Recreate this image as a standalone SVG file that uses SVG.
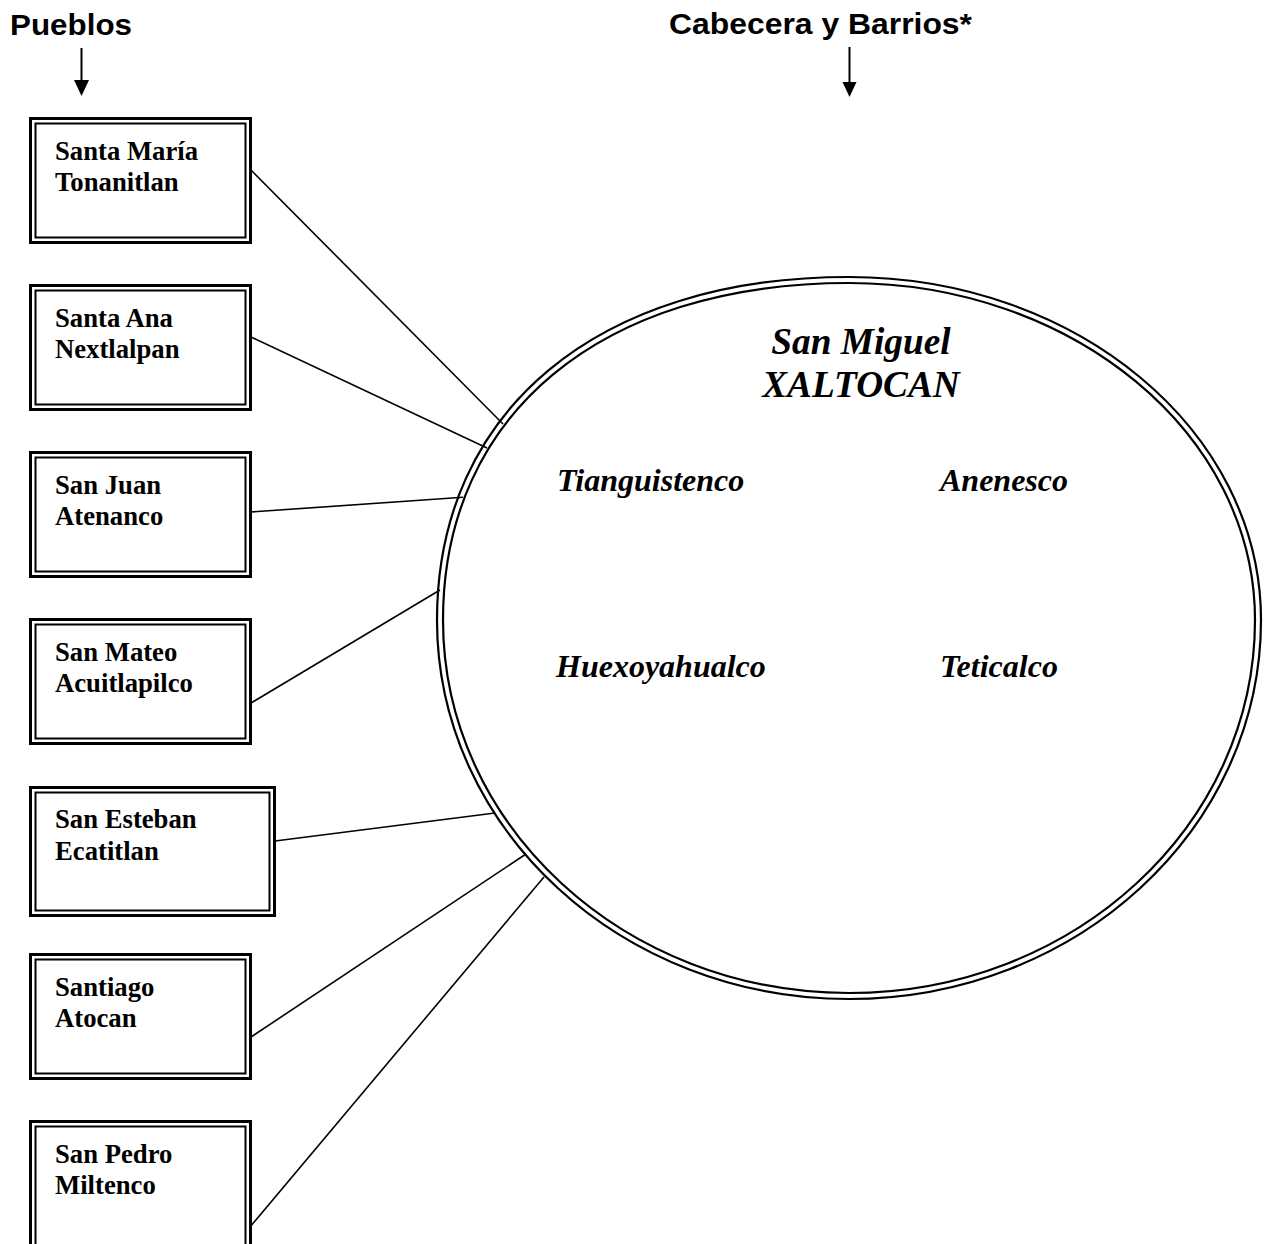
<svg xmlns="http://www.w3.org/2000/svg" width="1264" height="1244" viewBox="0 0 1264 1244">
<style>
.o{fill:none;stroke:#000;stroke-width:3}
.i{fill:none;stroke:#000;stroke-width:2}
.bt{font-family:"Liberation Serif","Times New Roman",serif;font-weight:bold;font-size:26.7px;fill:#000}
.it{font-family:"Liberation Serif","Times New Roman",serif;font-weight:bold;font-style:italic;fill:#000}
.hd{font-family:"Liberation Sans",Arial,sans-serif;font-weight:bold;font-size:29px;fill:#000}
.cn{stroke:#000;stroke-width:1.6;fill:none}
.el{fill:none;stroke:#000;stroke-width:2.2}
</style>
<rect width="1264" height="1244" fill="#fff"/>
<g id="headers">
<text class="hd" x="10" y="35" textLength="122" lengthAdjust="spacingAndGlyphs">Pueblos</text>
<line x1="81.5" y1="48" x2="81.5" y2="82" stroke="#000" stroke-width="2"/>
<polygon points="74,80 89,80 81.5,96"/>
<text class="hd" x="669" y="34" textLength="303" lengthAdjust="spacingAndGlyphs">Cabecera y Barrios*</text>
<line x1="849.5" y1="47" x2="849.5" y2="84" stroke="#000" stroke-width="2"/>
<polygon points="842.5,82 856.5,82 849.5,97"/>
</g>
<g id="connectors">
<line class="cn" x1="251" y1="170" x2="503" y2="424"/>
<line class="cn" x1="251" y1="337" x2="487" y2="448"/>
<line class="cn" x1="251" y1="512" x2="463" y2="497.2"/>
<line class="cn" x1="251" y1="703" x2="440" y2="590"/>
<line class="cn" x1="275" y1="841" x2="495" y2="813"/>
<line class="cn" x1="251" y1="1037" x2="526" y2="854"/>
<line class="cn" x1="250" y1="1227" x2="544" y2="877"/>
</g>
<g id="cabecera">
<path class="el" d="M437,620 C437,410.8 597.7,277 849,277 C1076.5,277 1261,430.6 1261,620 C1261,829.3 1076.5,999 849,999 C621.5,999 437,829.3 437,620 Z"/>
<path class="el" d="M443,620 C443,414.4 601.3,283 849,283 C1073.2,283 1255,433.9 1255,620 C1255,826 1073.2,993 849,993 C624.8,993 443,826 443,620 Z"/>
<text class="it" x="861" y="354" font-size="37.3" text-anchor="middle">San Miguel</text>
<text class="it" x="861" y="397" font-size="37.3" text-anchor="middle">XALTOCAN</text>
<text class="it" x="557" y="491" font-size="32">Tianguistenco</text>
<text class="it" x="940" y="491" font-size="32">Anenesco</text>
<text class="it" x="556" y="677" font-size="32">Huexoyahualco</text>
<text class="it" x="940" y="677" font-size="32">Teticalco</text>
</g>
<g id="p1"><rect class="o" x="30.5" y="118.5" width="220" height="124"/><rect class="i" x="35.5" y="123.5" width="210" height="114"/><text class="bt" x="55" y="160">Santa María</text><text class="bt" x="55" y="191">Tonanitlan</text></g>
<g id="p2"><rect class="o" x="30.5" y="285.5" width="220" height="124"/><rect class="i" x="35.5" y="290.5" width="210" height="114"/><text class="bt" x="55" y="327">Santa Ana</text><text class="bt" x="55" y="358">Nextlalpan</text></g>
<g id="p3"><rect class="o" x="30.5" y="452.5" width="220" height="124"/><rect class="i" x="35.5" y="457.5" width="210" height="114"/><text class="bt" x="55" y="494">San Juan</text><text class="bt" x="55" y="525">Atenanco</text></g>
<g id="p4"><rect class="o" x="30.5" y="619.5" width="220" height="124"/><rect class="i" x="35.5" y="624.5" width="210" height="114"/><text class="bt" x="55" y="661">San Mateo</text><text class="bt" x="55" y="692">Acuitlapilco</text></g>
<g id="p5"><rect class="o" x="30.5" y="787.5" width="244" height="128"/><rect class="i" x="35.5" y="792.5" width="234" height="118"/><text class="bt" x="55" y="828">San Esteban</text><text class="bt" x="55" y="860">Ecatitlan</text></g>
<g id="p6"><rect class="o" x="30.5" y="954.5" width="220" height="124"/><rect class="i" x="35.5" y="959.5" width="210" height="114"/><text class="bt" x="55" y="996">Santiago</text><text class="bt" x="55" y="1027">Atocan</text></g>
<g id="p7"><rect class="o" x="30.5" y="1121.5" width="220" height="140"/><rect class="i" x="35.5" y="1126.5" width="210" height="130"/><text class="bt" x="55" y="1163">San Pedro</text><text class="bt" x="55" y="1194">Miltenco</text></g>
</svg>
